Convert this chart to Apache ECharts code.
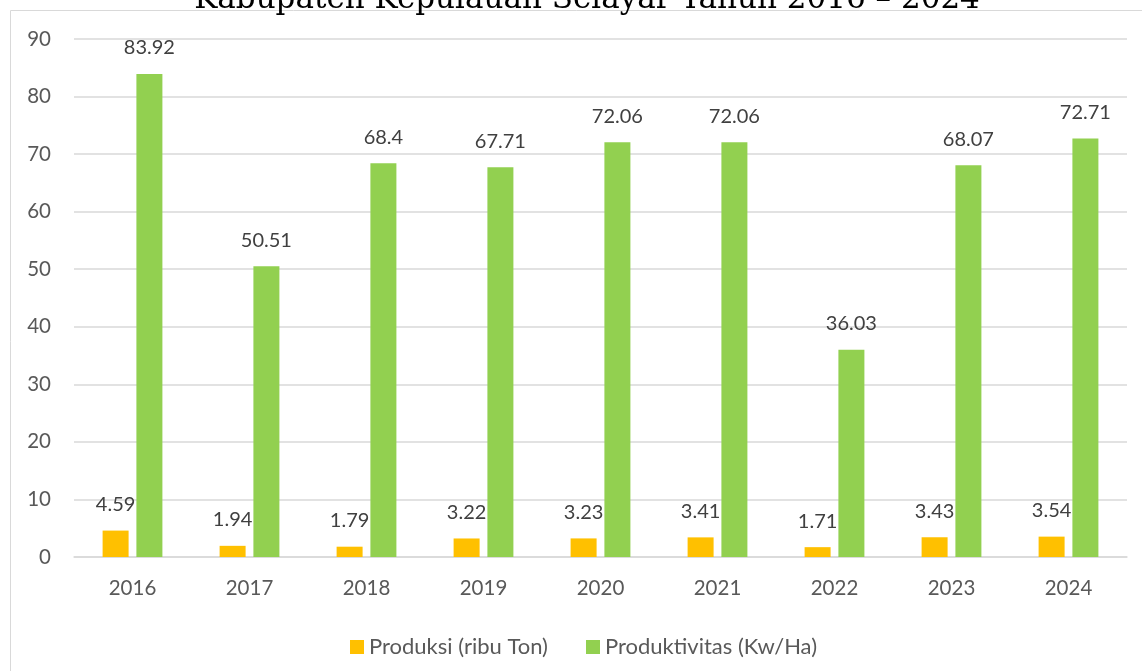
<!DOCTYPE html>
<html>
<head>
<meta charset="utf-8">
<script src="https://cdn.jsdelivr.net/npm/echarts@6/dist/echarts.min.js"></script>
<style>
html,body{margin:0;padding:0;background:#fff;}
#chart{width:1142px;height:671px;}
</style>
</head>
<body>
<div id="chart"></div>
<script>
var years = ['2016','2017','2018','2019','2020','2021','2022','2023','2024'];
var produksi = [4.59, 1.94, 1.79, 3.22, 3.23, 3.41, 1.71, 3.43, 3.54];
var produktivitas = [83.92, 50.51, 68.4, 67.71, 72.06, 72.06, 36.03, 68.07, 72.71];
var seriesNames = ['Produksi (ribu Ton)', 'Produktivitas (Kw/Ha)'];
var titleText = 'Kabupaten Kepulauan Selayar Tahun 2016 \u2013 2024';

var chart = echarts.init(document.getElementById('chart'));
var font = 'Lato, "Open Sans", sans-serif';
var labelStyle = {
  show: true, position: 'top', distance: 16,
  color: '#404040', fontSize: 20, fontFamily: font
};
chart.setOption({
  animation: false,
  title: {
    text: titleText, left: 582, textAlign: 'center', top: -21,
    textStyle: {fontFamily: '"DejaVu Serif", serif', fontWeight: 'normal', fontSize: 31, color: '#000'}
  },
  graphic: [{
    type: 'rect', z: -1,
    shape: {x: 10.5, y: 10.5, width: 1140, height: 670},
    style: {fill: 'none', stroke: '#d9d9d9', lineWidth: 1}
  }],
  legend: {
    data: seriesNames, left: 345, top: 631,
    itemWidth: 14, itemHeight: 14, itemGap: 38,
    icon: 'rect',
    textStyle: {color: '#595959', fontSize: 22, fontFamily: font}
  },
  grid: {left: 74, right: 15, top: 39, bottom: 114, containLabel: false},
  xAxis: {
    type: 'category', data: years,
    axisLine: {lineStyle: {color: '#d9d9d9', width: 1.5}},
    axisTick: {show: false},
    axisLabel: {color: '#595959', fontSize: 20.5, fontFamily: font, margin: 21}
  },
  yAxis: {
    type: 'value', min: 0, max: 90, interval: 10,
    axisLine: {show: false}, axisTick: {show: false},
    splitLine: {lineStyle: {color: '#d9d9d9', width: 1.5}},
    axisLabel: {color: '#595959', fontSize: 20.5, fontFamily: font, margin: 23}
  },
  series: [{
    name: seriesNames[0], type: 'bar', data: produksi,
    barWidth: 26, barGap: '30%',
    itemStyle: {color: '#FFC000'},
    label: labelStyle
  }, {
    name: seriesNames[1], type: 'bar', data: produktivitas,
    barWidth: 26,
    itemStyle: {color: '#92D050'},
    label: labelStyle
  }]
});
</script>
</body>
</html>
